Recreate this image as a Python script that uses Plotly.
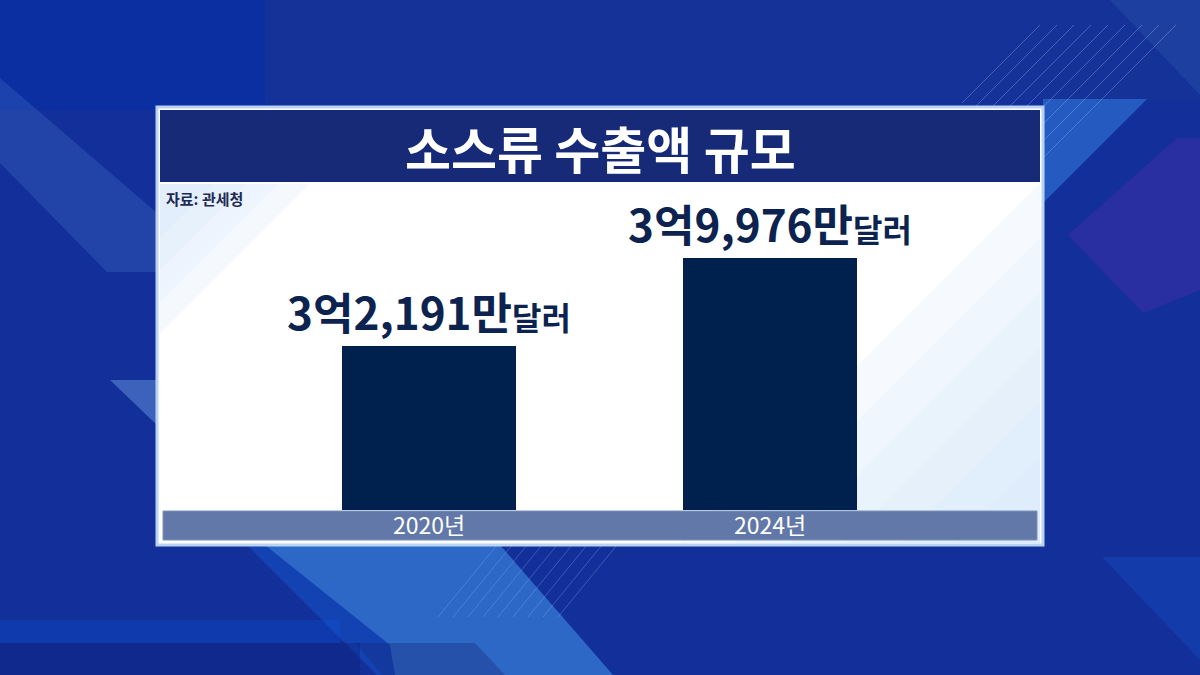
import plotly.graph_objects as go

# ---- data ----
years = ["2020년", "2024년"]
values = [32191, 39976]          # 만달러
value_main = ["3억2,191만", "3억9,976만"]
value_unit = ["달러", "달러"]
title_text = "소스류 수출액 규모"
source_text = "자료: 관세청"

W, H = 1200, 675
KR = "Noto Sans CJK KR"
PL, PR, PT, PB = 163, 1037, 185, 510   # plot area in pixels
PW, PH = PR - PL, PB - PT

fig = go.Figure()

fig.add_trace(go.Bar(
    x=years, y=values,
    width=0.51,
    marker=dict(color="#00204d", line=dict(width=0)),
    hoverinfo="skip",
))

# value labels above bars
for yr, v, m, u in zip(years, values, value_main, value_unit):
    fig.add_annotation(
        x=yr, y=v, xref="x", yref="y",
        text=f"<b>{m}</b><span style='font-size:32px'><b>{u}</b></span>",
        showarrow=False, yanchor="bottom", yshift=1,
        font=dict(family=KR, size=44, color="#0c2350"),
    )

def px_x(v):
    return (v - PL) / PW

def px_y(v):
    return (PB - v) / PH

def poly(points, color, layer="below"):
    path = "M " + " L ".join(f"{px_x(a):.4f},{px_y(b):.4f}" for a, b in points) + " Z"
    fig.add_shape(type="path", path=path, xref="paper", yref="paper",
                  fillcolor=color, line=dict(width=0), layer=layer)

def rect(x0, y0, x1, y1, color, layer="below", line=None):
    fig.add_shape(type="rect", xref="paper", yref="paper",
                  x0=px_x(x0), x1=px_x(x1), y0=px_y(y1), y1=px_y(y0),
                  fillcolor=color, line=line or dict(width=0), layer=layer)

def seg(x0, y0, x1, y1, color, width=1):
    fig.add_shape(type="line", xref="paper", yref="paper",
                  x0=px_x(x0), y0=px_y(y0), x1=px_x(x1), y1=px_y(y1),
                  line=dict(color=color, width=width), layer="below")

# ---- background decoration ----
rect(0, 0, 265, 110, "rgba(5,45,165,0.55)")
rect(265, 0, 1200, 100, "rgba(25,55,150,0.3)")
poly([(0, 78), (157, 213), (157, 272), (107, 272), (0, 163)], "rgba(90,140,225,0.22)")
poly([(110, 380), (157, 380), (157, 425)], "rgba(110,160,230,0.45)")
# bottom centre light band
rect(0, 620, 340, 643, "rgba(10,70,200,0.45)")
poly([(247, 545), (500, 545), (613, 675), (377, 675)], "rgba(20,90,210,0.45)")
poly([(265, 545), (500, 545), (613, 675), (395, 675), (390, 645)], "rgba(80,150,225,0.45)")
poly([(355, 643), (475, 643), (505, 675), (382, 675)], "rgba(20,40,120,0.35)")
for i in range(9):
    seg(438 + 15 * i, 617, 497 + 15 * i, 545, "rgba(150,185,240,0.3)")
rect(0, 643, 360, 675, "rgba(10,25,110,0.3)")
# right side decoration
poly([(1043, 99), (1147, 99), (1043, 203)], "rgba(50,120,220,0.6)")
poly([(1068, 235), (1177, 138), (1200, 138), (1200, 290), (1143, 313)], "rgba(60,45,165,0.55)")
poly([(1110, 0), (1200, 0), (1200, 95)], "rgba(40,80,170,0.45)")
poly([(1102, 557), (1200, 557), (1200, 660)], "rgba(20,70,185,0.5)")
for i in range(9):
    top_x = 1040 + 17 * i
    length = 78 + 10 * i
    seg(top_x, 25, top_x - length, 25 + length, "rgba(160,190,245,0.35)")

# ---- panel ----
rect(157, 107, 1043, 545, "#ffffff", line=dict(color="#b9d3f2", width=3))
for k in range(6):
    s = 360 - 55 * k
    poly([(1040 - s, 543), (1040, 543 - s), (1040, 543)], "rgba(215,232,250,0.22)")
for k in range(4):
    s = 150 - 32 * k
    poly([(160, 184), (160 + s, 184), (160, 184 + s)], "rgba(215,232,250,0.25)")
rect(160, 110, 1040, 182, "#172a78")
rect(163, 511, 1037, 540, "#6178a8", line=dict(color="#7d90bb", width=1))

fig.add_annotation(x=0.5, y=px_y(147), xref="paper", yref="paper",
                   text=f"<b>{title_text}</b>", showarrow=False,
                   xanchor="center", yanchor="middle",
                   font=dict(family=KR, size=50, color="#ffffff"))
fig.add_annotation(x=px_x(164), y=px_y(198), xref="paper", yref="paper",
                   text=f"<b>{source_text}</b>", showarrow=False,
                   xanchor="left", yanchor="middle",
                   font=dict(family=KR, size=15, color="#1e2a55"))

# axis geometry: bar centers at px 429 and 770
ppu = 770 - 429
x_lo = (PL - 429) / ppu
x_hi = (PR - 429) / ppu
y0v = 17682
y_top = y0v + (PB - PT) * (39976 - y0v) / 252.0

fig.update_layout(
    width=W, height=H,
    margin=dict(l=PL, r=W - PR, t=PT, b=H - PB, pad=0),
    paper_bgcolor="#13309a",
    plot_bgcolor="rgba(0,0,0,0)",
    showlegend=False,
    bargap=0,
    font=dict(family=KR),
    xaxis=dict(
        type="category", range=[x_lo, x_hi], showgrid=False, zeroline=False,
        showline=False, ticks="", ticklabelstandoff=0,
        tickfont=dict(family=KR, size=23, color="#ffffff"), fixedrange=True,
    ),
    yaxis=dict(
        range=[y0v, y_top], showgrid=False, zeroline=False, showline=False,
        showticklabels=False, ticks="", fixedrange=True,
    ),
)

fig.write_html("out.html", config={"displayModeBar": False},
               post_script="document.body.style.margin='0px';")
